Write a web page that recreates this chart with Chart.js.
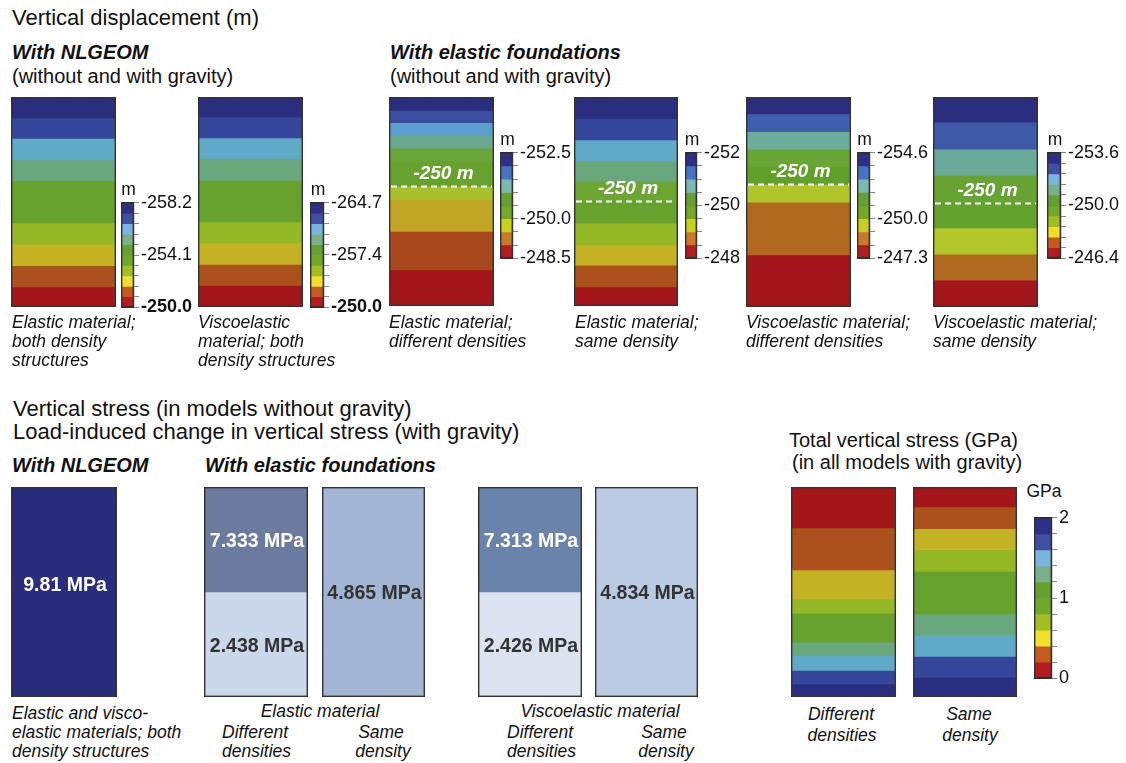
<!DOCTYPE html>
<html><head><meta charset="utf-8">
<script src="https://cdn.jsdelivr.net/npm/chart.js@4/dist/chart.umd.min.js"></script>
<style>
html,body{margin:0;padding:0;background:#fff}
body{width:1126px;height:763px;position:relative;overflow:hidden;font-family:"Liberation Sans",Arial,sans-serif;color:#111}
.t{position:absolute;white-space:nowrap;line-height:1;transform:translateY(-50%)}
.c{transform:translate(-50%,-50%)}
.it{font-style:italic}
.bi{font-style:italic;font-weight:bold}
canvas{position:absolute}
</style></head><body>
<script>
// ---------- DATA ----------
// Vertical displacement: band thicknesses, top to bottom (depth units of the model column)
const elasticBothBands = [20.7, 20.3, 21.3, 21, 41.7, 21, 21.3, 21, 20];
const viscoBothBands   = [20, 21, 20.7, 21.7, 41.7, 21, 21.3, 21, 21.7];
const elasticDiffBands = [13.3, 12.3, 12.7, 12.7, 12.7, 25.3, 13.3, 31.7, 38.3, 36];
const elasticSameBands = [21.7, 21, 20.7, 20.7, 19.3, 22.7, 21.3, 20.3, 21.7, 19];
const viscoDiffBands   = [16.7, 17.7, 17.3, 17.7, 17.3, 17.7, 52.3, 51.7];
const viscoSameBands   = [25, 26.7, 26, 27.3, 25, 26, 25.7, 26.7];
// depth of the -250 m level in the foundation models (same depth units)
const elasticDiffZero = 89;
const elasticSameZero = 103.3;
const viscoDiffZero   = 86.7;
const viscoSameZero   = 105;
// colour-bar tick labels (top, middle, bottom)
const cbElasticBoth = ['-258.2', '-254.1', '-250.0'];
const cbViscoBoth   = ['-264.7', '-257.4', '-250.0'];
const cbElasticDiff = ['-252.5', '-250.0', '-248.5'];
const cbElasticSame = ['-252', '-250', '-248'];
const cbViscoDiff   = ['-254.6', '-250.0', '-247.3'];
const cbViscoSame   = ['-253.6', '-250.0', '-246.4'];
const cbGPa         = ['2', '1', '0'];
const zeroLabel = '-250 m';
// Vertical stress (MPa): layer values, top to bottom, and layer thickness
const stressNlgeom      = [9.81];
const stressElasticDiff = [7.333, 2.438];
const stressElasticSame = [4.865];
const stressViscoDiff   = [7.313, 2.426];
const stressViscoSame   = [4.834];
const layerTwo = [1, 1];
const layerOne = [1];
// Total vertical stress: band thicknesses, top to bottom
const totalDiffBands = [41, 42.3, 29, 14.3, 29, 13.7, 14.7, 13.7, 13];
const totalSameBands = [20, 21.7, 21, 21.7, 43, 21.3, 21.3, 21, 19.7];

// ---------- STYLES ----------
const FONT = '"Liberation Sans", Arial, sans-serif';
const C = {navy:'#2b2d7e', blue:'#34479a', lb:'#60a9c7', teal:'#69a77c', green:'#66a22d', green2:'#6ca631',
  yg:'#95b826', mus:'#c3b324', org:'#ab521c', red:'#a3171b'};
const colsBoth = [C.navy, C.blue, C.lb, C.teal, C.green, C.yg, C.mus, C.org, C.red];
const colsElDiff = [C.navy, '#3a4fa0', '#5a9fcf', '#6aa98f', '#6aa63a', C.green, '#a6c12a', '#c0a624', '#a9491e', '#a5161b'];
const colsElSame = [C.navy, C.blue, C.lb, C.teal, C.green2, C.green, C.yg, C.mus, C.org, C.red];
const colsViDiff = [C.navy, '#3e5fae', '#6cad9c', '#68a534', '#62a02c', '#b0c52a', '#b0691e', '#a3161b'];
const colsViSame = [C.navy, '#3d59a8', '#6aaa98', '#66a332', '#63a12d', '#b2c728', '#b06a20', '#a3161b'];
const colsTotal = [C.red, C.org, C.mus, C.yg, C.green, C.teal, C.lb, C.blue, C.navy];
const cb10 = ['#2e2f88','#404fa0','#7ab5e0','#7ab088','#66a030','#70a82a','#a2be20','#f0e028','#c45a20','#b41c20'];
const cb8  = ['#2e3088','#4a72c2','#7cb8b0','#66a030','#76a828','#c8d01e','#c87a28','#b41c20'];

// ---------- helpers ----------
function text(str, x, y, size, cls, center, color){
  const d = document.createElement('div');
  d.className = 't ' + (cls||'') + (center ? ' c' : '');
  d.style.left = x + 'px'; d.style.top = y + 'px'; d.style.fontSize = size + 'px';
  if (color) d.style.color = color;
  d.textContent = str; document.body.appendChild(d);
}
function canvasAt(x, y, w, h){
  const cv = document.createElement('canvas');
  cv.width = w; cv.height = h; cv.style.left = x + 'px'; cv.style.top = y + 'px';
  cv.style.width = w + 'px'; cv.style.height = h + 'px';
  document.body.appendChild(cv); return cv;
}
const framePlugin = {id:'frame', afterDraw(chart){
  const a = chart.chartArea, ctx = chart.ctx; ctx.save();
  ctx.strokeStyle = '#333'; ctx.lineWidth = 1.4;
  ctx.strokeRect(a.left + 0.7, a.top + 0.7, a.right - a.left - 1.4, a.bottom - a.top - 1.4);
  ctx.restore();
}};
const baseOpts = () => ({responsive:false, maintainAspectRatio:false, animation:false, devicePixelRatio:1,
  events:[], plugins:{legend:{display:false}, tooltip:{enabled:false}}});

function column(x, y, w, h, bands, colors, zeroDepth){
  const total = bands.reduce((s, v) => s + v, 0);
  const plugins = [framePlugin];
  if (zeroDepth !== undefined){
    plugins.push({id:'zero', afterDatasetsDraw(chart){
      const ys = chart.scales.y, a = chart.chartArea, ctx = chart.ctx;
      const py = Math.round(ys.getPixelForValue(zeroDepth)) + 0.5;
      ctx.save(); ctx.strokeStyle = '#fff'; ctx.lineWidth = 2; ctx.setLineDash([6, 4]);
      ctx.beginPath(); ctx.moveTo(a.left + 2, py); ctx.lineTo(a.right - 2, py); ctx.stroke();
      ctx.fillStyle = '#fff'; ctx.font = 'italic bold 19px ' + FONT;
      ctx.textAlign = 'center'; ctx.textBaseline = 'middle';
      ctx.fillText(zeroLabel, (a.left + a.right) / 2 + 2, py - 13);
      ctx.restore();
    }});
  }
  const o = baseOpts();
  o.layout = {padding:0};
  o.scales = {x:{display:false, stacked:true}, y:{display:false, stacked:true, reverse:true, min:0, max:total}};
  new Chart(canvasAt(x, y, w, h), {type:'bar',
    data:{labels:[''], datasets:bands.map((v, i) => ({data:[v], backgroundColor:colors[i], borderWidth:0,
      barPercentage:1, categoryPercentage:1}))},
    options:o, plugins});
}

function stressColumn(x, y, w, h, layers, values, colors, textColors, dy){
  const total = layers.reduce((s, v) => s + v, 0);
  const o = baseOpts();
  o.layout = {padding:0};
  o.scales = {x:{display:false, stacked:true}, y:{display:false, stacked:true, reverse:true, min:0, max:total}};
  const labels = {id:'vals', afterDatasetsDraw(chart){
    const ctx = chart.ctx; ctx.save();
    ctx.font = 'bold 19.5px ' + FONT; ctx.textAlign = 'center'; ctx.textBaseline = 'middle';
    chart.data.datasets.forEach((ds, i) => {
      const el = chart.getDatasetMeta(i).data[0]; const p = el.getCenterPoint();
      ctx.fillStyle = textColors[i]; ctx.fillText(String(values[i]) + ' MPa', p.x + 1, p.y + 2 + (dy || 0));
    });
    ctx.restore();
  }};
  new Chart(canvasAt(x, y, w, h), {type:'bar',
    data:{labels:[''], datasets:layers.map((v, i) => ({data:[v], backgroundColor:colors[i], borderWidth:0,
      barPercentage:1, categoryPercentage:1}))},
    options:o, plugins:[labels, framePlugin]});
}

function colorbar(x, y, w, h, tickLabels, colors, unit, boldBottom, unitDy){
  const PAD = 12, AXW = 74;
  const top = parseFloat(tickLabels[0]), bot = parseFloat(tickLabels[2]);
  const n = colors.length;
  const bounds = []; for (let i = 0; i <= n; i++) bounds.push(top + (bot - top) * i / n);
  const range = Math.abs(bot - top);
  const findLabel = v => { for (const s of tickLabels){ if (Math.abs(parseFloat(s) - v) < range / 60) return s; } return ''; };
  const o = baseOpts();
  o.layout = {padding:{top:PAD, bottom:PAD, left:0, right:0}};
  o.scales = {
    x:{display:false},
    y:{position:'right', min:Math.min(top, bot), max:Math.max(top, bot), reverse: top < bot, z:1,
      afterBuildTicks(s){ s.ticks = bounds.map(v => ({value:v})); },
      afterFit(s){ s.width = AXW; },
      grid:{display:true, drawOnChartArea:true, drawTicks:true, tickLength:5, color:'#2a2a2a', tickColor:'#888', lineWidth:1},
      border:{display:true, color:'#222', width:1.2},
      ticks:{autoSkip:false, padding:2, color:'#111',
        callback:(v) => findLabel(v),
        font:(ctx) => ({family:FONT, size:18, weight:(boldBottom && ctx.tick && Math.abs(ctx.tick.value - bot) < 1e-6) ? 'bold' : 'normal'})}
    }};
  new Chart(canvasAt(x, y - PAD, w + AXW, h + 2 * PAD), {type:'bar',
    data:{labels:[''], datasets:colors.map((c, i) => ({data:[[bounds[i], bounds[i + 1]]], backgroundColor:c,
      borderWidth:0, grouped:false, barPercentage:1, categoryPercentage:1}))},
    options:o, plugins:[framePlugin]});
  text(unit, x + w / 2 + 1, y - (unitDy || 12), 17.5, '', true);
}

// ---------- TOP SECTION ----------
text('Vertical displacement (m)', 12, 18, 22);
text('With NLGEOM', 12, 52, 20, 'bi');
text('(without and with gravity)', 12, 76, 20);
text('With elastic foundations', 390, 52, 20, 'bi');
text('(without and with gravity)', 390, 76, 20);

column(11, 97, 105, 210, elasticBothBands, colsBoth);
column(198, 97, 105, 210, viscoBothBands, colsBoth);
column(389, 97, 105, 209, elasticDiffBands, colsElDiff, elasticDiffZero);
column(574, 97, 104, 209, elasticSameBands, colsElSame, elasticSameZero);
column(746, 97, 105, 210, viscoDiffBands, colsViDiff, viscoDiffZero);
column(933, 97, 105, 210, viscoSameBands, colsViSame, viscoSameZero);

colorbar(121, 202, 13, 106, cbElasticBoth, cb10, 'm', true);
colorbar(310, 202, 14, 106, cbViscoBoth, cb10, 'm', true);
colorbar(500, 152, 13, 107, cbElasticDiff, cb8, 'm', false);
colorbar(685, 152, 12, 107, cbElasticSame, cb8, 'm', false);
colorbar(857, 152, 13, 107, cbViscoDiff, cb8, 'm', false);
colorbar(1047, 152, 14, 107, cbViscoSame, cb10, 'm', false);

const L = 17.5;
text('Elastic material;', 12, 323, L, 'it'); text('both density', 12, 342, L, 'it'); text('structures', 12, 361, L, 'it');
text('Viscoelastic', 198, 323, L, 'it'); text('material; both', 198, 342, L, 'it'); text('density structures', 198, 361, L, 'it');
text('Elastic material;', 389, 323, L, 'it'); text('different densities', 389, 342, L, 'it');
text('Elastic material;', 575, 323, L, 'it'); text('same density', 575, 342, L, 'it');
text('Viscoelastic material;', 746, 323, L, 'it'); text('different densities', 746, 342, L, 'it');
text('Viscoelastic material;', 933, 323, L, 'it'); text('same density', 933, 342, L, 'it');

// ---------- BOTTOM SECTION ----------
text('Vertical stress (in models without gravity)', 13, 409, 22);
text('Load-induced change in vertical stress (with gravity)', 13, 432, 22);
text('With NLGEOM', 12, 465, 20, 'bi');
text('With elastic foundations', 205, 465, 20, 'bi');
text('Total vertical stress (GPa)', 789, 440, 20);
text('(in all models with gravity)', 792, 462, 20);

stressColumn(11, 487, 106, 210, layerOne, stressNlgeom, ['#2a2c7c'], ['#fff'], -8);
stressColumn(204, 487, 104, 210, layerTwo, stressElasticDiff, ['#6b7a9f', '#cbd7ea'], ['#fff', '#333']);
stressColumn(322, 487, 103, 210, layerOne, stressElasticSame, ['#a2b5d5'], ['#333']);
stressColumn(478, 487, 104, 210, layerTwo, stressViscoDiff, ['#6a83ab', '#dbe2f0'], ['#fff', '#333']);
stressColumn(595, 487, 103, 210, layerOne, stressViscoSame, ['#bbcbe3'], ['#333']);

column(791, 487, 105, 210, totalDiffBands, colsTotal);
column(913, 487, 104, 210, totalSameBands, colsTotal);
colorbar(1034, 517, 18, 162, cbGPa, cb10, 'GPa', false, 25);

text('Elastic and visco-', 12, 714, L, 'it'); text('elastic materials; both', 12, 733, L, 'it'); text('density structures', 12, 752, L, 'it');
text('Elastic material', 320, 712, L, 'it', true);
text('Different', 222, 733, L, 'it'); text('densities', 222, 752, L, 'it');
text('Same', 381, 733, L, 'it', true); text('density', 383, 752, L, 'it', true);
text('Viscoelastic material', 600, 712, L, 'it', true);
text('Different', 507, 733, L, 'it'); text('densities', 507, 752, L, 'it');
text('Same', 664, 733, L, 'it', true); text('density', 666, 752, L, 'it', true);
text('Different', 841, 715, L, 'it', true); text('densities', 842, 736, L, 'it', true);
text('Same', 969, 715, L, 'it', true); text('density', 970, 736, L, 'it', true);
</script>
</body></html>
